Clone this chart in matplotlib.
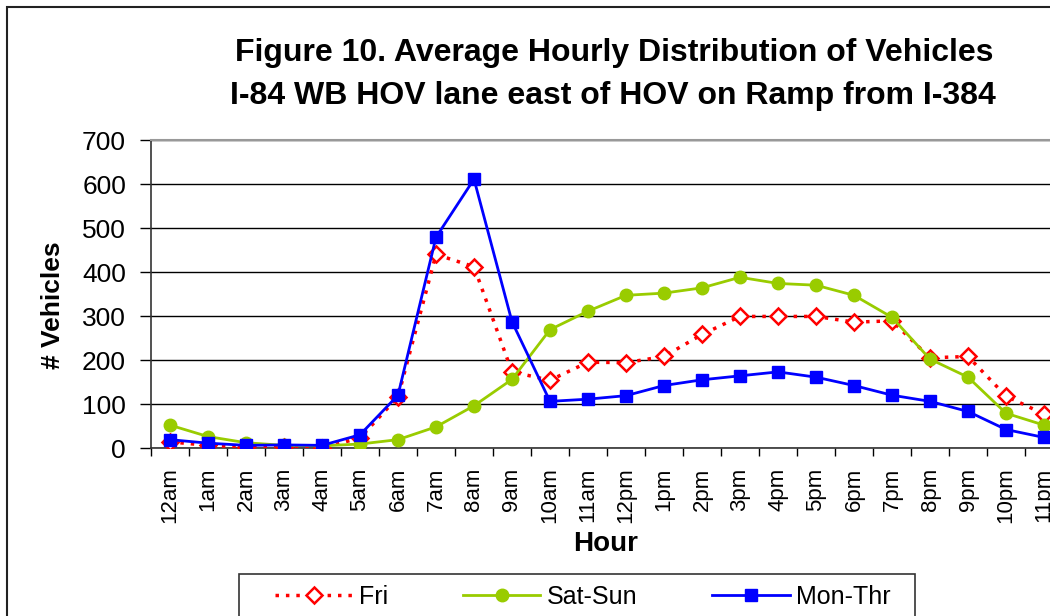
import numpy as np
import matplotlib
matplotlib.use('Agg')
import matplotlib.pyplot as plt
from matplotlib.patches import Rectangle

plt.rcParams['font.family'] = ['Liberation Sans', 'DejaVu Sans']

# hourly averages
hours = ['12am', '1am', '2am', '3am', '4am', '5am', '6am', '7am', '8am', '9am', '10am', '11am',
         '12pm', '1pm', '2pm', '3pm', '4pm', '5pm', '6pm', '7pm', '8pm', '9pm', '10pm', '11pm']
fri = [14, 6, 2, 2, 0, 23, 116, 440, 412, 173, 154, 195,
       194, 208, 258, 299, 299, 299, 286, 289, 205, 208, 118, 77]
sat_sun = [52, 26, 12, 6, 5, 9, 19, 48, 96, 156, 269, 311,
           347, 352, 364, 388, 374, 370, 347, 297, 202, 161, 79, 52]
mon_thr = [19, 11, 6, 7, 6, 30, 120, 479, 611, 287, 106, 111,
           119, 142, 155, 164, 173, 161, 142, 120, 106, 83, 42, 24]

W, H = 1050, 616
fig = plt.figure(figsize=(W / 100, H / 100), dpi=100)
fig.patch.set_facecolor('white')

# plot area runs past the right edge, like the cropped original
ax = fig.add_axes([151 / W, 1 - 448 / H, 912 / W, 308 / H])
x = np.arange(len(hours))

l_fri, = ax.plot(x, fri, color='#FF0000', linestyle=(0, (1, 2)), linewidth=2.5,
                 marker='D', markersize=8, markerfacecolor='white',
                 markeredgecolor='#FF0000', markeredgewidth=1.8, zorder=3)
l_ss, = ax.plot(x, sat_sun, color='#99CC00', linewidth=2, marker='o',
                markersize=9, markeredgecolor='#99CC00', zorder=4)
l_mt, = ax.plot(x, mon_thr, color='#0000FF', linewidth=2, marker='s',
                markersize=8, markeredgecolor='#0000FF', zorder=5)

ax.set_xlim(-0.5, len(hours) - 0.5)
ax.set_ylim(0, 700)
ax.set_yticks(range(0, 701, 100))
ax.yaxis.grid(True, color='black', linewidth=1)
ax.set_axisbelow(True)

ax.set_xticks(x)
ax.set_xticklabels(hours, rotation=90, fontsize=16)
ax.set_xticks(np.arange(-0.5, len(hours)), minor=True)
ax.tick_params(axis='x', which='major', length=0, pad=14)
ax.tick_params(axis='x', which='minor', length=6, width=1, direction='out')
ax.tick_params(axis='y', length=8, width=1, direction='out', pad=10, labelsize=19)

for side in ['left', 'bottom']:
    ax.spines[side].set_color('#333333')
    ax.spines[side].set_linewidth(1.2)
ax.spines['top'].set_color('#999999')
ax.spines['top'].set_linewidth(1.5)
ax.spines['right'].set_color('#999999')

fig.text(614 / W, 1 - 53 / H, 'Figure 10. Average Hourly Distribution of Vehicles',
         ha='center', va='center', fontsize=23, fontweight='bold')
fig.text(613 / W, 1 - 96 / H, 'I-84 WB HOV lane east of HOV on Ramp from I-384',
         ha='center', va='center', fontsize=23, fontweight='bold')
fig.text(606 / W, 1 - 544 / H, 'Hour', ha='center', va='center',
         fontsize=20, fontweight='bold')
fig.text(53 / W, 1 - 305 / H, '# Vehicles', ha='center', va='center',
         rotation=90, fontsize=19, fontweight='bold')

fig.legend([l_fri, l_ss, l_mt], ['Fri', 'Sat-Sun', 'Mon-Thr'],
           loc='center left', bbox_to_anchor=(275 / W, 1 - 597 / H),
           ncol=3, frameon=False, fontsize=18, numpoints=1,
           handlelength=3.1, handletextpad=0.25, columnspacing=3.0,
           borderpad=0, borderaxespad=0)

# legend box and chart border, both cut by the crop
fig.add_artist(Rectangle((239 / W, -0.2), 676 / W, 0.2 + 1 - 574 / H,
                         transform=fig.transFigure, fill=False,
                         edgecolor='#333333', linewidth=1.2))
fig.add_artist(Rectangle((7 / W, -0.2), 2.0, 0.2 + 1 - 7 / H,
                         transform=fig.transFigure, fill=False,
                         edgecolor='#222222', linewidth=1.5))

fig.savefig('out.png', dpi=100)
